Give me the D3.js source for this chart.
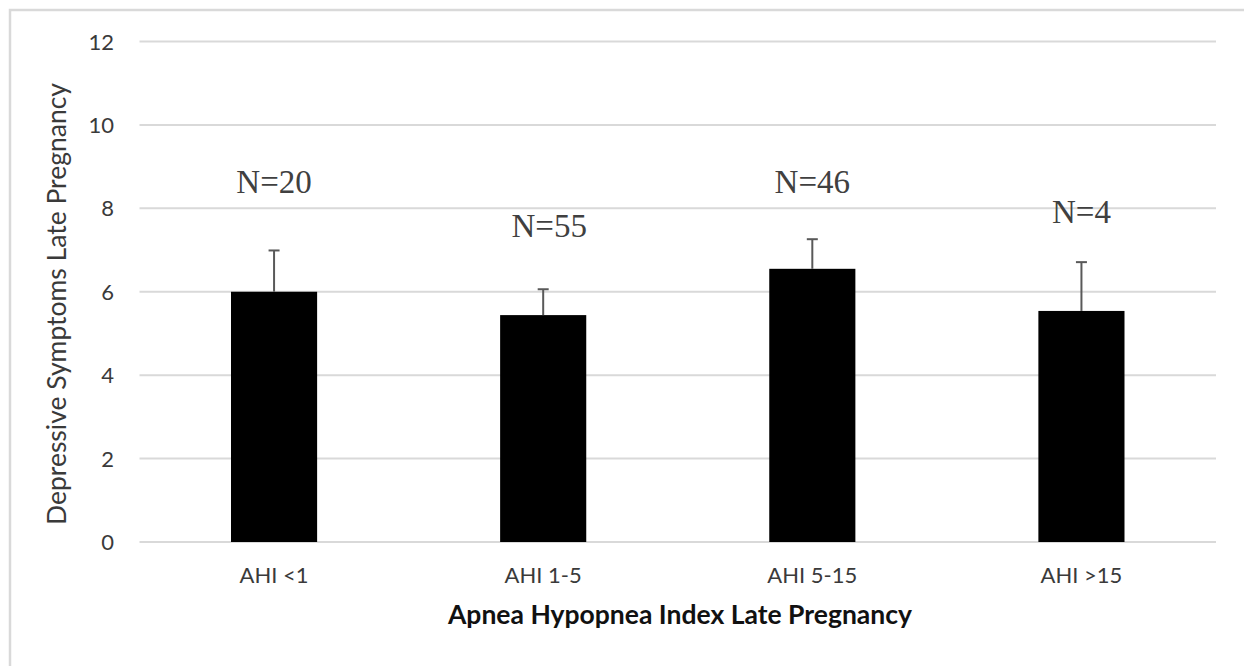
<!DOCTYPE html>
<html>
<head>
<meta charset="utf-8">
<script src="https://cdn.jsdelivr.net/npm/d3@7"></script>
<style>
  body { margin: 0; background: #fff; }
  svg { display: block; }
  .tick-label { font-family: Lato, "Open Sans", sans-serif; font-size: 22px; fill: #3a3a3a; }
  .axis-title { font-family: Lato, "Open Sans", sans-serif; font-size: 26.5px; fill: #3a3a3a; }
  .axis-title--bold { font-weight: bold; fill: #111; }
  .n-label { font-family: "Liberation Serif", "DejaVu Serif", serif; font-size: 33px; fill: #404040; }
</style>
</head>
<body>
<div id="chart"></div>
<script>
/*
* Depressive symptoms by AHI group, bar chart with error bars
*/

let width = 1244;
let height = 666;

// data
let categories = ['AHI <1', 'AHI 1-5', 'AHI 5-15', 'AHI >15'];
let means = [6.0, 5.44, 6.55, 5.54];
let errorsUp = [0.99, 0.62, 0.71, 1.17];
let nLabels = ['N=20', 'N=55', 'N=46', 'N=4'];
let nLabelAt = [8.37, 7.31, 8.37, 7.65];
let yTicks = [0, 2, 4, 6, 8, 10, 12];

let margin = { left: 139.5, right: 28, top: 41.5, bottom: 124 };

let svg = d3.select('#chart').append('svg')
  .attr('width', width)
  .attr('height', height);

// outer chart border (right and bottom edges fall outside the picture)
svg.append('rect')
  .attr('x', 10)
  .attr('y', 10)
  .attr('width', width + 20)
  .attr('height', height + 20)
  .attr('fill', 'none')
  .attr('stroke', '#d9d9d9')
  .attr('stroke-width', 2.5);

let x = d3.scaleBand()
  .domain(categories)
  .range([margin.left, width - margin.right])
  .paddingInner(0.68)
  .paddingOuter(0.34);

let y = d3.scaleLinear()
  .domain([0, 12])
  .range([height - margin.bottom, margin.top]);

// gridlines
svg.append('g').attr('class', 'grid')
  .selectAll('line')
  .data(yTicks)
  .enter().append('line')
    .attr('x1', margin.left)
    .attr('x2', width - margin.right)
    .attr('y1', d => y(d))
    .attr('y2', d => y(d))
    .attr('stroke', '#d9d9d9')
    .attr('stroke-width', 2);

// y tick labels
svg.append('g')
  .selectAll('text')
  .data(yTicks)
  .enter().append('text')
    .attr('class', 'tick-label')
    .attr('x', 114)
    .attr('y', d => y(d) + 8)
    .style('text-anchor', 'end')
    .text(d => d);

// bars
let bars = svg.append('g').attr('class', 'bars');
bars.selectAll('rect')
  .data(categories)
  .enter().append('rect')
    .attr('x', d => x(d))
    .attr('y', (d, i) => y(means[i]))
    .attr('width', x.bandwidth())
    .attr('height', (d, i) => y(0) - y(means[i]))
    .attr('fill', '#000');

// error bars (only the upper half shows above the bar)
let err = svg.append('g').attr('class', 'errors')
  .attr('stroke', '#595959')
  .attr('stroke-width', 2);

err.selectAll('.err-line')
  .data(categories)
  .enter().append('line')
    .attr('class', 'err-line')
    .attr('x1', d => x(d) + x.bandwidth() / 2)
    .attr('x2', d => x(d) + x.bandwidth() / 2)
    .attr('y1', (d, i) => y(means[i]))
    .attr('y2', (d, i) => y(means[i] + errorsUp[i]));

err.selectAll('.err-cap')
  .data(categories)
  .enter().append('line')
    .attr('class', 'err-cap')
    .attr('x1', d => x(d) + x.bandwidth() / 2 - 5.5)
    .attr('x2', d => x(d) + x.bandwidth() / 2 + 5.5)
    .attr('y1', (d, i) => y(means[i] + errorsUp[i]))
    .attr('y2', (d, i) => y(means[i] + errorsUp[i]));

// N labels
svg.append('g')
  .selectAll('text')
  .data(categories)
  .enter().append('text')
    .attr('class', 'n-label')
    .attr('x', (d, i) => x(d) + x.bandwidth() / 2 + (i === 1 ? 6 : 0))
    .attr('y', (d, i) => y(nLabelAt[i]))
    .style('text-anchor', 'middle')
    .text((d, i) => nLabels[i]);

// x category labels
svg.append('g')
  .selectAll('text')
  .data(categories)
  .enter().append('text')
    .attr('class', 'tick-label')
    .attr('x', d => x(d) + x.bandwidth() / 2)
    .attr('y', 582.5)
    .style('text-anchor', 'middle')
    .text(d => d);

// axis titles
svg.append('text')
  .attr('class', 'axis-title axis-title--bold')
  .attr('x', 680)
  .attr('y', 624)
  .style('text-anchor', 'middle')
  .text('Apnea Hypopnea Index Late Pregnancy');

svg.append('text')
  .attr('class', 'axis-title')
  .attr('transform', 'translate(66,' + 304 + ') rotate(-90)')
  .style('text-anchor', 'middle')
  .text('Depressive Symptoms Late Pregnancy');
</script>
</body>
</html>
